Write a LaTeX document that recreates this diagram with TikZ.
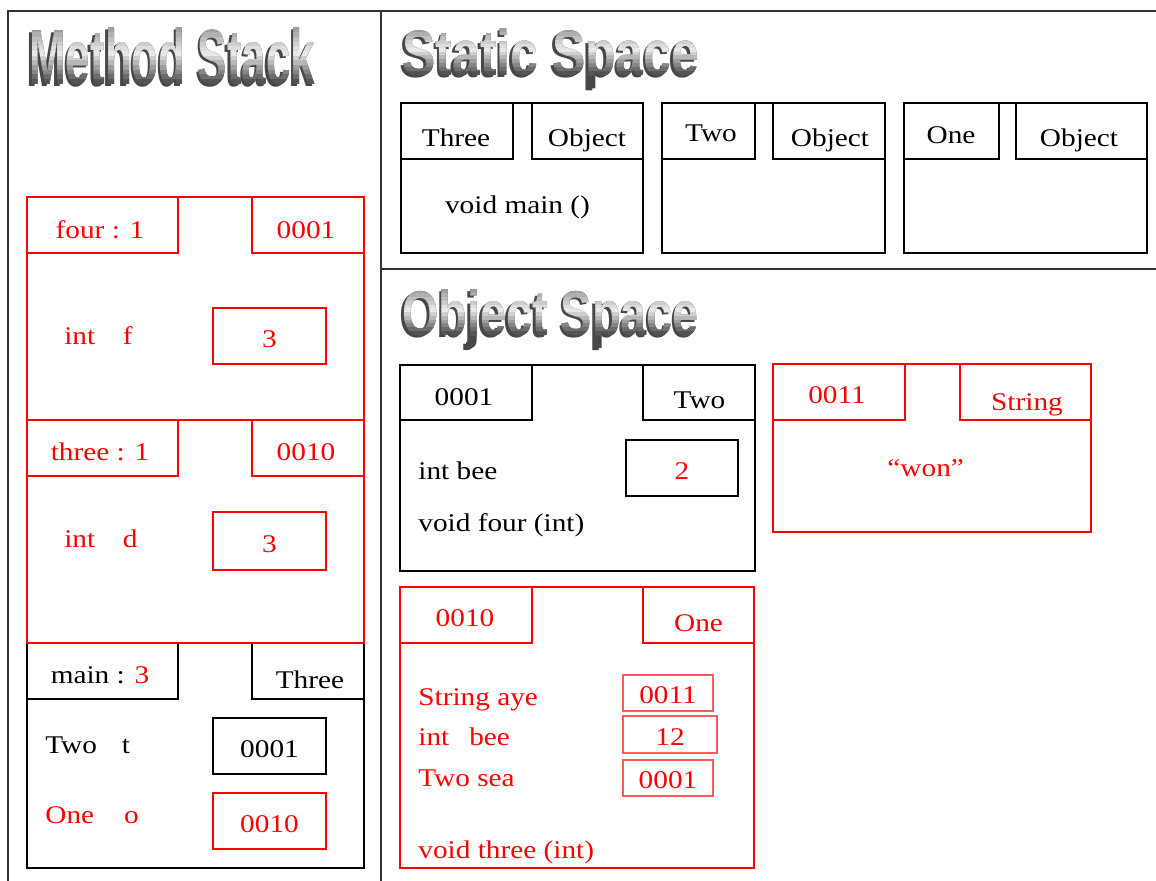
\documentclass[tikz,border=0pt]{standalone}
\usepackage{graphicx}
\usepackage{fontspec}
\setmainfont{Liberation Serif}[FakeStretch=1.15]
\newfontfamily\titlefont{Liberation Sans}
\usepackage{tikz}
\newcommand{\bodysize}{\fontsize{14.5}{17}\selectfont}
\tikzset{
  frm/.style={line width=1.1pt},
  txt/.style={font=\bodysize, inner sep=0pt, anchor=base},
  txtw/.style={txt, anchor=base west},
  valbox/.style={draw, line width=1.1pt, inner sep=0pt, font=\bodysize,
                 text height=0.46cm, text depth=0pt},
  smallbox/.style={valbox, draw=red!65, text=red, line width=1pt, text height=0.42cm},
  ttl/.style={font=\titlefont\bfseries\fontsize{36}{40}\selectfont, inner sep=0pt, anchor=base west},
}
% grey metal title: name, x, baseline, cap height, x scale, y scale, text
\newcommand{\gradtitle}[7]{%
  \node[ttl,text=black!72] (#1sh) at (#2-2.5,#3+2) {\scalebox{#5}[#6]{#7}};
  \node[ttl,text=black!72] (#1) at (#2,#3) {\scalebox{#5}[#6]{#7}};
  \foreach \i in {0,...,11}{
    \pgfmathsetmacro\bandt{(\i+0.5)/12}
    \pgfmathsetmacro\bandp{\bandt<0.45 ? 40-32*\bandt/0.45 : 8+64*(\bandt-0.45)/0.55}
    \pgfmathsetmacro\bandy{#3-#4+\i*#4/12-(\i==0 ? 10 : 0)}
    \pgfmathsetmacro\bandz{#3-#4+(\i+1)*#4/12}
    \begin{scope}
      \clip ({#2-10},\bandy) rectangle ({#2+420},\bandz);
      \node[ttl,text=black!\bandp] (#1\i) at (#2,#3) {\scalebox{#5}[#6]{#7}};
    \end{scope}
  }%
}

\begin{document}
\begin{tikzpicture}[x=0.02cm,y=-0.02cm]
  \clip (0,0) rectangle (1156,880);
  % outer frame and the two dividers
  \draw[frm,black!80] (8,890) -- (8,11) -- (1166,11);
  \draw[frm,black!80] (381,11) -- (381,890);
  \draw[frm,black!80] (381,269) -- (1166,269);
  % titles
  \gradtitle{mstack}{29}{84}{56}{0.695}{1.235}{Method Stack}
  \gradtitle{sspace}{402}{75}{46}{0.789}{1.015}{Static Space}
  \gradtitle{ospace}{402}{335}{45}{0.74}{1.0}{Object Space}
  % frames: left, top, right, bottom, tab bottom, left tab end, right tab start
  \foreach \xl/\yt/\xr/\yb/\yh/\xa/\xc/\col in {
      27/643/364/868/699/178/252/black,
      27/197/364/420/253/178/252/red,
      27/420/364/643/476/178/252/red,
      401/103/643/253/159/513/532/black,
      662/103/885/253/159/755/773/black,
      904/103/1147/253/159/999/1016/black,
      400/365/755/571/420/532/643/black,
      400/587/754/868/643/532/643/red,
      773/364/1091/532/420/905/960/red}{
    \draw[frm,\col] (\xl,\yt) rectangle (\xr,\yb)
      (\xl,\yh) -| (\xa,\yt) (\xr,\yh) -| (\xc,\yt);
  }
  % method stack: four
  \node[txt,red] (fourname) at (100,238) {four : 1};
  \node[txt,red] (fouraddr) at (306,238) {0001};
  \node[txtw,red] (fourvar) at (64,344) {int\hspace{0.55cm}f};
  \node[valbox,red,minimum width=2.26cm,minimum height=1.12cm] (fourval) at (269.5,336) {3};
  % method stack: three
  \node[txt,red] (threename) at (100,460) {three : 1};
  \node[txt,red] (threeaddr) at (306,460) {0010};
  \node[txtw,red] (threevar) at (64,547) {int\hspace{0.55cm}d};
  \node[valbox,red,minimum width=2.26cm,minimum height=1.16cm] (threeval) at (269.5,541) {3};
  % method stack: main
  \node[txt] (mainname) at (100,683) {main : \textcolor{red}{3}};
  \node[txt] (mainclass) at (310,688) {Three};
  \node[txtw] (mainvart) at (45,753) {Two\hspace{0.5cm}t};
  \node[valbox,minimum width=2.26cm,minimum height=1.12cm] (mainvalt) at (269.5,746) {0001};
  \node[txtw,red] (mainvaro) at (45,823) {One\hspace{0.6cm}o};
  \node[valbox,red,minimum width=2.26cm,minimum height=1.12cm] (mainvalo) at (269.5,821) {0010};
  % static space
  \node[txt] (stthree) at (456,146.7) {Three};
  \node[txt] (stthreeobj) at (587,146.7) {Object};
  \node[txt] (stmain) at (517.5,213) {void main ()};
  \node[txt] (sttwo) at (711,141.7) {Two};
  \node[txt] (sttwoobj) at (830,146.7) {Object};
  \node[txt] (stone) at (951,143) {One};
  \node[txt] (stoneobj) at (1079,146.7) {Object};
  % object space: 0001
  \node[txt] (objaaddr) at (464,405) {0001};
  \node[txt] (objaclass) at (699.5,408) {Two};
  \node[txtw] (objabee) at (418,479) {int bee};
  \node[valbox,text=red,minimum width=2.24cm,minimum height=1.12cm] (objabeeval) at (682,468) {2};
  \node[txtw] (objafour) at (418,531) {void four (int)};
  % object space: 0010
  \node[txt,red] (objbaddr) at (465,626.7) {0010};
  \node[txt,red] (objbclass) at (698.5,631.7) {One};
  \node[txtw,red] (objbaye) at (418,705) {String aye};
  \node[smallbox,minimum width=1.8cm,minimum height=0.72cm] (objbayeval) at (668,693) {0011};
  \node[txtw,red] (objbbee) at (418,745) {int\hspace{0.4cm}bee};
  \node[smallbox,minimum width=1.88cm,minimum height=0.74cm] (objbbeeval) at (670,734.5) {12};
  \node[txtw,red] (objbsea) at (418,786.7) {Two sea};
  \node[smallbox,minimum width=1.8cm,minimum height=0.72cm] (objbseaval) at (668,778) {0001};
  \node[txtw,red] (objbthree) at (418,858) {void three (int)};
  % object space: 0011
  \node[txt,red] (objcaddr) at (837,403) {0011};
  \node[txt,red] (objcclass) at (1027,410) {String};
  \node[txt,red] (objcwon) at (925.7,476.7) {“won”};
\end{tikzpicture}
\end{document}
